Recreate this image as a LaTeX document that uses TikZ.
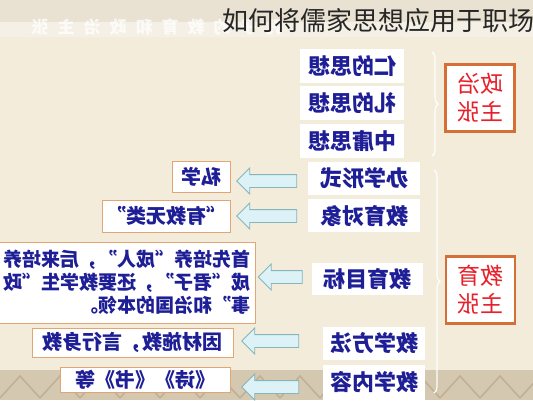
\documentclass[tikz,border=0pt]{standalone}
\usepackage{fontspec}
\usepackage{tikz}
\usetikzlibrary{shapes, shapes.arrows, positioning, decorations.pathreplacing}
\newfontfamily\cjk{Noto Sans CJK SC}
\definecolor{paper}{HTML}{F3ECDB}
\definecolor{topband}{HTML}{E9E2D2}
\definecolor{topstrip}{HTML}{F5F0E6}
\definecolor{lowband}{HTML}{D4C8B1}
\definecolor{lowline}{HTML}{BFAF95}
\definecolor{navy}{HTML}{1E1E96}
\definecolor{zred}{HTML}{E8202A}
\definecolor{rim}{HTML}{D56F35}
\definecolor{tan}{HTML}{E2A675}
\definecolor{ice}{HTML}{DDF2F7}
\definecolor{icerim}{HTML}{86B5BC}
\tikzstyle{flip}=[xscale=-1, transform shape]
\tikzstyle{idea}=[rectangle, fill=white, flip, text=navy, inner sep=1pt, minimum height=34pt, font=\cjk\bfseries\fontsize{22}{26}\selectfont]
\tikzstyle{note}=[rectangle, draw=tan, line width=0.8pt, fill=white, flip, text=navy, inner sep=1pt, font=\cjk\bfseries\fontsize{20}{23}\selectfont]
\tikzstyle{claim}=[rectangle, draw=rim, line width=2.2pt, fill=white, flip, text=zred, align=center, minimum width=69pt, minimum height=67pt, font=\cjk\fontsize{23}{28}\selectfont]
\tikzstyle{back}=[single arrow, shape border rotate=180, draw=icerim, fill=ice, line width=0.8pt, inner sep=6pt, minimum width=25pt, single arrow head extend=6.5pt]
\tikzstyle{curl}=[decorate, decoration={brace, amplitude=6pt}, draw=white, line width=1.1pt]

\begin{document}
\begin{tikzpicture}[x=1pt, y=-1pt]
	% background
	\useasboundingbox (0,0) rectangle (533,400);
	\fill[paper] (0,0) rectangle (533,400);
	\fill[topband] (0,0) rectangle (533,22);
	\fill[topstrip] (0,22) rectangle (533,37);
	\fill[lowband] (0,370) rectangle (533,400);
	\foreach \i in {0,...,13}
		\draw[lowline, line width=1.5pt] (\i*40,398) -- (\i*40+20,376) -- (\i*40+40,398);
	\node[flip, text=white, opacity=0.75, font=\cjk\bfseries\fontsize{17}{20}\selectfont] (wm) at (157,27) {孔\hspace{9pt}子\hspace{9pt}的\hspace{9pt}教\hspace{9pt}育\hspace{9pt}和\hspace{9pt}政\hspace{9pt}治\hspace{9pt}主\hspace{9pt}张};
	\node[anchor=west, inner sep=0pt, text=black!85, font=\cjk\fontsize{26}{30}\selectfont] (ttl) at (222,21) {如何将儒家思想应用于职场};

	% political ideas
	\node[idea, minimum width=104pt] (ren) at (352,66) {仁的思想};
	\node[idea, minimum width=104pt, below=3pt of ren] (li) {礼的思想};
	\node[idea, minimum width=104pt, below=3pt of li] (zy) {中庸思想};
	\draw[curl] (432,52) -- (432,156);
	\node[claim] (zz) at (480,98) {政治\\主张};

	% education ideas
	\node[idea, minimum width=112pt, minimum height=33pt] (bx) at (364,178.5) {办学形式};
	\node[idea, minimum width=112pt, minimum height=33pt, below=4pt of bx] (dx) {教育对象};
	\node[idea, minimum width=111pt, minimum height=32pt] (mb) at (367.5,279) {教育目标};
	\node[idea, minimum width=102pt, minimum height=33pt] (ff) at (374,343.5) {教学方法};
	\node[idea, minimum width=102pt, minimum height=35pt] (nr) at (374,382.5) {教学内容};
	\draw[curl] (434,170) -- (434,393);
	\node[claim] (jy) at (480.5,290) {教育\\主张};

	% what each one means
	\node[note, minimum width=58pt, minimum height=31pt] (sx) at (201,176.5) {私学};
	\node[note, minimum width=128pt, minimum height=32pt] (yj) at (166,216) {“有教无类”};
	\node[note, align=left, minimum width=256pt, minimum height=81pt, font=\cjk\bfseries\fontsize{19}{23}\selectfont] (cr) at (127,282.5) {首先培养“成人”，后来培养\\成“君子”，还要教学生“政\\事”和治国的本领。};
	\node[note, minimum width=201pt, minimum height=29pt] (ycsj) at (132.5,342.5) {因材施教，言行身教};
	\node[note, minimum width=170pt, minimum height=25pt] (ss) at (145,379.5) {《诗》《书》等};

	% arrows
	\node[back, minimum height=60pt] (a1) at (270,181) {};
	\node[back, minimum height=60pt] (a2) at (270,216) {};
	\node[back, minimum height=44pt] (a3) at (283.5,277) {};
	\node[back, minimum height=57pt] (a4) at (273.5,341) {};
	\node[back, minimum height=57pt] (a5) at (273.5,387) {};
\end{tikzpicture}
\end{document}
